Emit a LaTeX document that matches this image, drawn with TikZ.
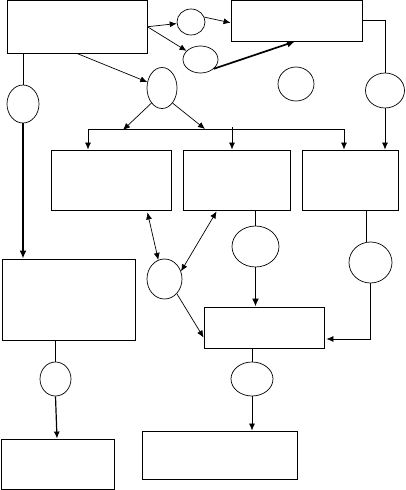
\documentclass[tikz,border=0pt]{standalone}
\usetikzlibrary{shapes.geometric,arrows.meta,calc}
\begin{document}
\begin{tikzpicture}[x=1pt,y=-1pt,
  box/.style={draw,line width=0.9pt,rectangle,inner sep=0pt},
  oval/.style={draw,line width=0.7pt,ellipse,inner sep=0pt},
  con/.style={line width=0.7pt},
  arr/.style={con,-{Latex[length=7pt,width=6pt]}},
  darr/.style={con,{Latex[length=7pt,width=6pt]}-{Latex[length=7pt,width=6pt]}},
  thk/.style={line width=1.7pt,-{Latex[length=8pt,width=7pt]}}]
\useasboundingbox (0,0) rectangle (406,490);
% boxes
\node[box,minimum width=140pt,minimum height=52.5pt] (A) at (77,26.75) {};
\node[box,minimum width=131pt,minimum height=40.5pt] (B) at (296.5,20.75) {};
\node[box,minimum width=120pt,minimum height=60pt] (C) at (111,180) {};
\node[box,minimum width=107pt,minimum height=60pt] (D) at (236.5,180) {};
\node[box,minimum width=96pt,minimum height=60pt] (E) at (350,180) {};
\node[box,minimum width=133pt,minimum height=81pt] (F) at (68.5,299.5) {};
\node[box,minimum width=120pt,minimum height=41pt] (G) at (264,327.5) {};
\node[box,minimum width=113pt,minimum height=50.5pt] (H) at (57.5,464.25) {};
\node[box,minimum width=155pt,minimum height=48pt] (I) at (219.5,455) {};
% ellipses
\node[oval,minimum width=28pt,minimum height=26pt] (e1) at (191,22) {};
\node[oval,minimum width=35pt,minimum height=27pt] (e2) at (200.5,59.5) {};
\node[oval,minimum width=30pt,minimum height=41pt] (e3) at (162,88) {};
\node[oval,minimum width=32pt,minimum height=38pt] (e4) at (23,104) {};
\node[oval,minimum width=36pt,minimum height=34pt] (e5) at (296,84) {};
\node[oval,minimum width=39pt,minimum height=35pt] (e6) at (385,90.5) {};
\node[oval,minimum width=35pt,minimum height=40pt] (e7) at (164.5,279) {};
\node[oval,minimum width=47pt,minimum height=41pt] (e8) at (255.5,246.5) {};
\node[oval,minimum width=43pt,minimum height=41pt] (e9) at (370.5,262.5) {};
\node[oval,minimum width=31pt,minimum height=34pt] (e10) at (55.5,379) {};
\node[oval,minimum width=42pt,minimum height=34pt] (e11) at (252,379) {};
% bus coordinates
\coordinate (bL) at (88,129);
\coordinate (bM) at (232,127);
\coordinate (bR) at (344,129);
\coordinate (t1) at (123,130);
\coordinate (t2) at (205,129);
% connectors
\draw[arr] (A.east) -- (e1);
\draw[arr] (e1.20) -- ([yshift=-2pt]B.west);
\draw[arr] (A.east) -- (e2);
\draw[thk] (e2.-35) -- ([xshift=-1.5pt]B.south);
\draw[arr] (A.south) -- (e3);
\draw[con] (e4.north |- A.south) -- (e4.north);
\draw[thk] (e4.south) -- (e4.south |- F.north);
\draw[con] (B.east) -- (e6.north |- B.east) -- (e6.north);
\draw[arr] (e6.south) -- (e6.south |- E.north);
\draw[arr] (e3.235) -- (t1);
\draw[arr] (e3.-55) -- (t2);
\draw[con] (bL) -- (bR);
\draw[arr] (bL) -- (bL |- C.north);
\draw[arr] (bM) -- (bM |- D.north);
\draw[arr] (bR) -- (bR |- E.north);
\draw[darr] ([xshift=-24pt,yshift=-2pt]C.south east) -- (e7.108);
\draw[darr] (e7.25) -- ([xshift=34pt,yshift=-1pt]D.south west);
\draw[arr] (e7.-50) -- ([yshift=-10pt]G.west);
\draw[con] (e8.north |- D.south) -- (e8.north);
\draw[thk] (e8.south) -- (e8.south |- G.north);
\draw[con] ([xshift=-4pt]e9.north |- E.south) -- ([xshift=-4pt]e9.north);
\draw[arr] (e9.south) -- (e9.south |- 0,339) -- ([xshift=2pt,yshift=-11.5pt]G.east);
\draw[con] (e10.north |- F.south) -- (e10.north);
\draw[line width=1.2pt,-{Latex[length=7pt,width=6pt]}] (e10.south) -- ([xshift=1.5pt]e10.south |- H.north);
\draw[con] (e11.north |- G.south) -- (e11.north);
\draw[arr] (e11.south) -- (e11.south |- I.north);
\end{tikzpicture}
\end{document}
